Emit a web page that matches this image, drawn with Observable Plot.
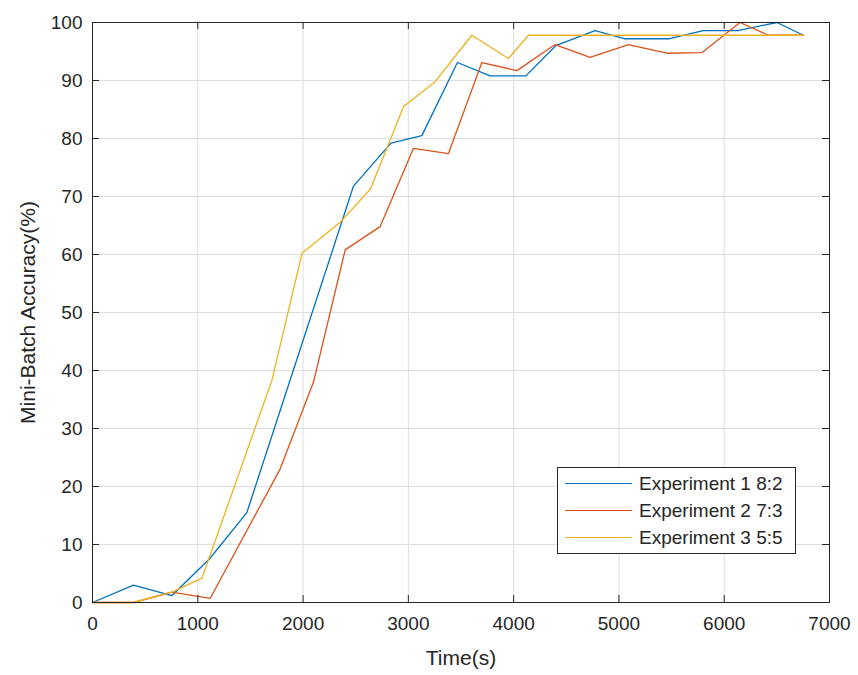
<!DOCTYPE html>
<html>
<head>
<meta charset="utf-8">
<script src="https://cdn.jsdelivr.net/npm/d3@7"></script>
<script src="https://cdn.jsdelivr.net/npm/@observablehq/plot@0.6"></script>
<style>
  html, body { margin: 0; padding: 0; background: #fff; }
  #wrap { position: relative; width: 858px; height: 675px; font-family: Arial, "Liberation Sans", Helvetica, sans-serif; }
  #legend {
    position: absolute; background: #fff; border: 1px solid #262626;
    font-size: 19px; color: #262626; box-sizing: border-box;
  }
  #legend .row { display: flex; align-items: center; height: 27px; }
  #legend .swatch { width: 67px; height: 0; margin-left: 7px; margin-right: 7px; }
</style>
</head>
<body>
<div id="wrap"></div>
<script>
// Axis ticks
const xTicks = [0, 1000, 2000, 3000, 4000, 5000, 6000, 7000];
const yTicks = [0, 10, 20, 30, 40, 50, 60, 70, 80, 90, 100];

// Series names and colours (MATLAB default line order)
const seriesNames = ["Experiment 1 8:2", "Experiment 2 7:3", "Experiment 3 5:5"];
const seriesColors = ["#0072BD", "#D95319", "#EDB120"];

// Experiment 1 (8:2 split): elapsed time (s) and mini-batch accuracy (%)
const exp1Time = [0, 389, 754, 1110, 1466, 2479, 2835, 3128, 3466, 3777, 4116, 4400, 4773, 5050, 5480, 5800, 6130, 6500, 6752];
const exp1Acc  = [0, 3.0, 1.2, 7.5, 15.5, 71.8, 79.2, 80.5, 93.1, 90.8, 90.8, 96.0, 98.6, 97.2, 97.2, 98.6, 98.6, 100, 97.8];

// Experiment 2 (7:3 split)
const exp2Time = [0, 389, 754, 1117, 1782, 2099, 2400, 2731, 3049, 3381, 3698, 4031, 4394, 4726, 5090, 5455, 5787, 6150, 6420, 6752];
const exp2Acc  = [0, 0, 1.8, 0.7, 23.0, 38.0, 60.8, 64.8, 78.3, 77.4, 93.1, 91.7, 96.2, 94.0, 96.2, 94.7, 94.8, 100, 97.8, 97.8];

// Experiment 3 (5:5 split)
const exp3Time = [0, 389, 754, 1040, 1704, 1990, 2350, 2640, 2955, 3254, 3603, 3951, 4141, 4500, 5000, 5500, 6000, 6500, 6752];
const exp3Acc  = [0, 0, 1.8, 4.2, 38.3, 60.2, 65.5, 71.3, 85.5, 89.8, 97.8, 93.8, 97.8, 97.8, 97.8, 97.8, 97.8, 97.8, 97.8];

const seriesTimes = [exp1Time, exp2Time, exp3Time];
const seriesAccs = [exp1Acc, exp2Acc, exp3Acc];

const rows = [];
seriesNames.forEach((name, i) => {
  seriesTimes[i].forEach((t, j) => rows.push({series: name, time: t, acc: seriesAccs[i][j]}));
});

const W = 858, H = 675;
const mL = 92, mR = 29, mT = 22, mB = 73;
const plotW = W - mL - mR, plotH = H - mT - mB;
const tickLen = 7;
const axisColor = "#262626";
const gridColor = "#dedede";

const chart = Plot.plot({
  width: W,
  height: H,
  marginLeft: mL,
  marginRight: mR,
  marginTop: mT,
  marginBottom: mB,
  style: {fontFamily: 'Arial, "Liberation Sans", Helvetica, sans-serif', color: axisColor, background: "#fff"},
  x: {domain: [0, 7000]},
  y: {domain: [0, 100]},
  color: {domain: seriesNames, range: seriesColors},
  marks: [
    Plot.gridX(xTicks, {stroke: gridColor, strokeOpacity: 1, strokeWidth: 1}),
    Plot.gridY(yTicks, {stroke: gridColor, strokeOpacity: 1, strokeWidth: 1}),
    Plot.line(rows, {x: "time", y: "acc", z: "series", stroke: "series", strokeWidth: 1.3, curve: "linear"}),
    // inward tick marks on all four sides
    Plot.tickX(xTicks, {x: d => d, insetTop: plotH - tickLen, stroke: axisColor}),
    Plot.tickX(xTicks, {x: d => d, insetBottom: plotH - tickLen, stroke: axisColor}),
    Plot.tickY(yTicks, {y: d => d, insetRight: plotW - tickLen, stroke: axisColor}),
    Plot.tickY(yTicks, {y: d => d, insetLeft: plotW - tickLen, stroke: axisColor}),
    Plot.frame({stroke: axisColor, strokeWidth: 1}),
    Plot.axisX(xTicks, {
      anchor: "bottom", tickSize: 0, tickPadding: 14, fontSize: 19,
      tickFormat: d => String(d),
      label: "Time(s)", labelAnchor: "center", labelArrow: "none", labelOffset: 62
    }),
    Plot.axisY(yTicks, {
      anchor: "left", tickSize: 0, tickPadding: 10, fontSize: 19,
      tickFormat: d => String(d),
      label: "Mini-Batch Accuracy(%)", labelAnchor: "center", labelArrow: "none", labelOffset: 72
    })
  ]
});

// axis titles slightly larger than tick labels
chart.querySelectorAll("g[aria-label='x-axis label'] text, g[aria-label='y-axis label'] text")
  .forEach(t => t.setAttribute("font-size", 21));

const wrap = document.getElementById("wrap");
wrap.appendChild(chart);

// Legend box in the lower right of the plot area
const legend = document.createElement("div");
legend.id = "legend";
legend.style.left = "557px";
legend.style.top = "467px";
legend.style.width = "239px";
legend.style.height = "87px";
legend.style.paddingTop = "2px";
seriesNames.forEach((name, i) => {
  const row = document.createElement("div");
  row.className = "row";
  const sw = document.createElement("div");
  sw.className = "swatch";
  sw.style.borderTop = `1.3px solid ${seriesColors[i]}`;
  const label = document.createElement("span");
  label.textContent = name;
  row.appendChild(sw);
  row.appendChild(label);
  legend.appendChild(row);
});
wrap.appendChild(legend);
</script>
</body>
</html>
